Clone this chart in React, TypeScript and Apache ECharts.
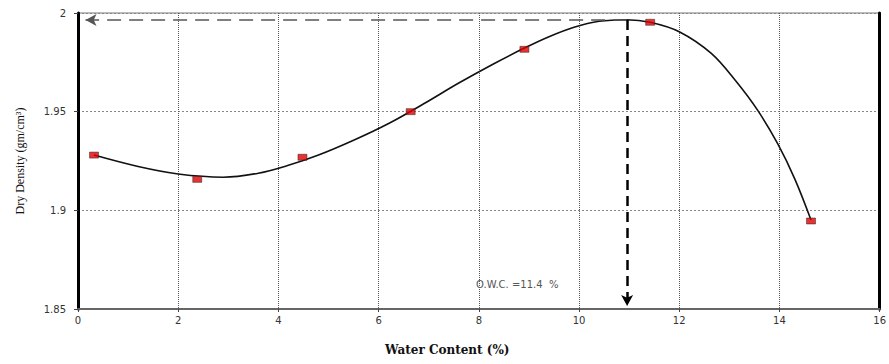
import React, { useEffect, useRef } from "react";
import * as echarts from "echarts";

// Compaction test results: water content (%) vs dry density (gm/cm³)
const waterContent = [0.32, 2.38, 4.48, 6.64, 8.91, 11.42, 14.63];
const dryDensity = [1.928, 1.9157, 1.9269, 1.95, 1.9816, 1.9953, 1.8946];

// Fitted compaction curve
const curveWater = [0.32, 1.2, 2.0, 2.9, 3.6, 4.2, 4.8, 5.5, 6.2, 6.9, 7.6, 8.3, 8.9, 9.4, 9.9, 10.4, 10.95, 11.42, 12.0, 12.64, 13.13, 13.57, 13.97, 14.31, 14.63];
const curveDensity = [1.928, 1.9222, 1.9184, 1.9168, 1.9188, 1.9228, 1.928, 1.9355, 1.944, 1.954, 1.9645, 1.9743, 1.9821, 1.988, 1.9928, 1.9958, 1.9966, 1.9953, 1.9905, 1.9795, 1.9655, 1.9505, 1.9335, 1.9157, 1.8951];

// Optimum point
const owcWater = 10.96;
const maxDensity = 1.9965;
const owcLabel = "O.W.C. =11.4  %";

const xTicks = { min: 0, max: 16, interval: 2 };
const yTicks = { min: 1.85, max: 2, interval: 0.05 };

export default function App() {
  const ref = useRef<HTMLDivElement>(null);

  useEffect(() => {
    if (!ref.current) return;
    const chart = echarts.init(ref.current, null, { renderer: "svg" });
    const labelFont = { fontFamily: "DejaVu Sans", fontSize: 10, color: "#333" };

    chart.setOption({
      animation: false,
      backgroundColor: "#fff",
      grid: {
        left: 78,
        right: 7,
        top: 13,
        bottom: 55,
        show: true,
        borderColor: "#777",
        borderWidth: 1,
      },
      xAxis: {
        type: "value",
        min: xTicks.min,
        max: xTicks.max,
        interval: xTicks.interval,
        axisLine: { show: true, onZero: false, lineStyle: { color: "#666", width: 2 } },
        axisTick: { show: true, length: 3, inside: false, lineStyle: { color: "#444" } },
        axisLabel: { ...labelFont, margin: 6 },
        splitLine: { show: true, lineStyle: { color: "#555", type: [1, 1], width: 1 } },
      },
      yAxis: [
        {
          type: "value",
          min: yTicks.min,
          max: yTicks.max,
          interval: yTicks.interval,
          name: "Dry Density (gm/cm³)",
          nameLocation: "middle",
          nameGap: 52,
          nameTextStyle: { fontFamily: "Liberation Serif", fontSize: 12, color: "#111" },
          axisLine: { show: true, onZero: false, lineStyle: { color: "#000", width: 3 } },
          axisTick: { show: true, length: 4, lineStyle: { color: "#444" } },
          axisLabel: {
            ...labelFont,
            margin: 12,
            formatter: (v: number) => String(+v.toFixed(2)),
          },
          splitLine: { show: true, lineStyle: { color: "#888", type: [2, 2], width: 1 } },
        },
        {
          type: "value",
          position: "right",
          min: yTicks.min,
          max: yTicks.max,
          interval: yTicks.interval,
          axisLine: { show: true, onZero: false, lineStyle: { color: "#000", width: 3 } },
          axisTick: { show: false },
          axisLabel: { show: false },
          splitLine: { show: false },
        },
      ],
      graphic: [
        {
          type: "text",
          left: 460 - 75,
          top: 344,
          style: {
            text: "Water Content (%)",
            font: "bold 12px 'DejaVu Serif'",
            fill: "#111",
          },
        },
        {
          type: "text",
          left: 476,
          top: 279,
          style: {
            text: owcLabel,
            font: "10px 'DejaVu Sans'",
            fill: "#555",
          },
        },
      ],
      series: [
        {
          type: "line",
          data: curveWater.map((x, i) => [x, curveDensity[i]]),
          smooth: 0.35,
          showSymbol: false,
          lineStyle: { color: "#111", width: 1.6 },
          z: 3,
          markLine: {
            silent: true,
            symbol: ["none", "arrow"],
            symbolSize: [9, 11],
            label: { show: false },
            data: [
              [
                {
                  coord: [owcWater, maxDensity],
                  lineStyle: { color: "#555", width: 1.5, type: [14, 8] },
                  itemStyle: { color: "#555" },
                },
                { coord: [0.15, maxDensity] },
              ],
              [
                {
                  coord: [owcWater, maxDensity],
                  lineStyle: { color: "#000", width: 2.5, type: [10, 6] },
                  itemStyle: { color: "#000" },
                },
                { coord: [owcWater, 1.8515] },
              ],
            ],
          },
        },
        {
          type: "scatter",
          data: waterContent.map((x, i) => [x, dryDensity[i]]),
          symbol: "rect",
          symbolSize: [9, 6],
          itemStyle: { color: "#e00000", borderColor: "#222", borderWidth: 0.6 },
          z: 4,
        },
      ],
    });

    return () => chart.dispose();
  }, []);

  return (
    <div
      ref={ref}
      style={{ position: "fixed", left: 0, top: 0, width: 889, height: 364, background: "#fff" }}
    />
  );
}
